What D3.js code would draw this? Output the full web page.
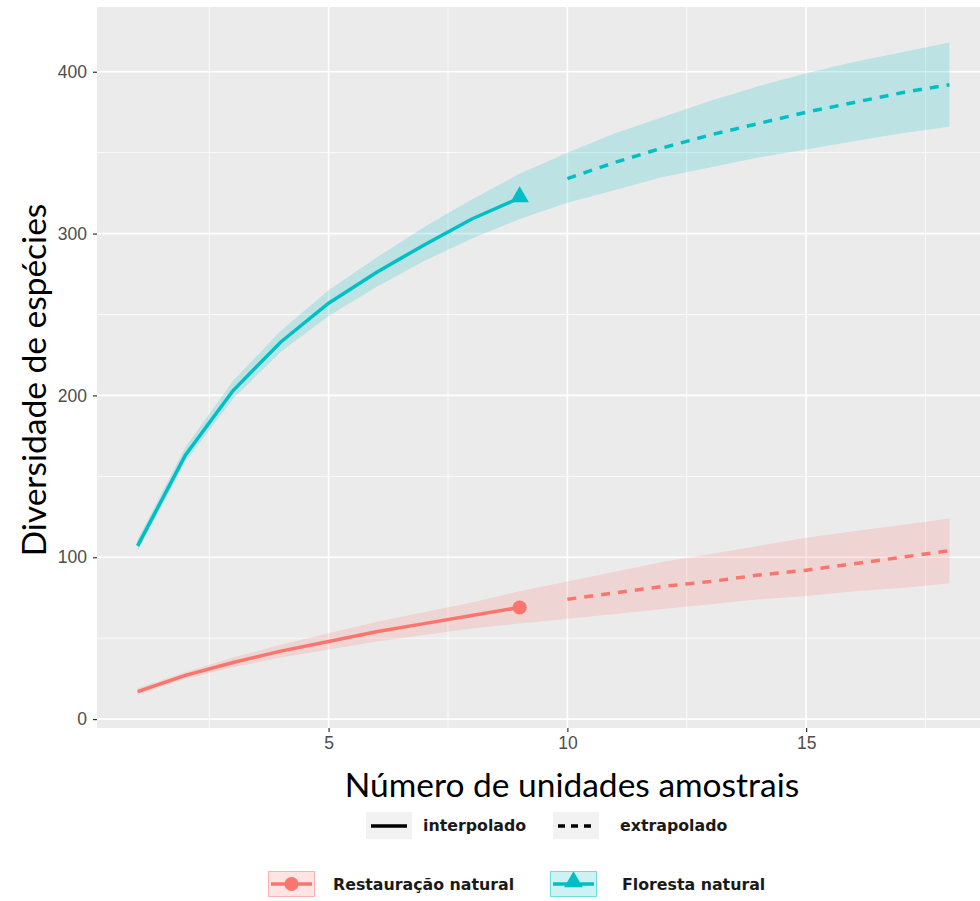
<!DOCTYPE html>
<html>
<head>
<meta charset="utf-8">
<script src="https://cdn.jsdelivr.net/npm/d3@7"></script>
<style>
  body { margin: 0; background: #ffffff; }
  svg { display: block; }
</style>
</head>
<body>
<div id="chart"></div>
<script>
//------------------------------DATA------------------------------//
const units = [1, 2, 3, 4, 5, 6, 7, 8, 9, 10, 11, 12, 13, 14, 15, 16, 17, 18];
const lastObserved = 9; // interpolado up to here, extrapolado after

const restMid = [17, 27, 35, 42, 48, 54, 59, 64, 69, 74, 78, 82, 85, 89, 92, 96, 100, 104];
const restLo  = [15, 25, 32, 38, 43, 48, 52, 56, 59, 62, 65, 68, 71, 74, 76, 79, 81, 84];
const restHi  = [19, 29, 38, 46, 53, 60, 66, 72, 79, 85, 91, 97, 102, 107, 112, 116, 120, 124];

const florMid = [107, 163, 203, 233, 257, 276, 293, 309, 322, 334, 344, 353, 361, 368, 375, 381, 387, 392];
const florLo  = [104, 159, 198, 227, 249, 267, 283, 297, 309, 319, 327, 335, 341, 347, 352, 357, 362, 366];
const florHi  = [111, 168, 209, 240, 265, 285, 304, 321, 337, 350, 362, 372, 382, 391, 399, 406, 412, 418];

const seriesNames = ["Restauração natural", "Floresta natural"];
const seriesColors = ["#F8766D", "#00BFC4"];
const lineTypes = ["interpolado", "extrapolado"];

const xMajor = [5, 10, 15];
const xMinor = [2.5, 7.5, 12.5, 17.5];
const yMajor = [0, 100, 200, 300, 400];
const yMinor = [50, 150, 250, 350];

//---------------------------SVG SETUP----------------------------//
const W = 980, H = 901;
const panel = { left: 97, top: 7, right: 990, bottom: 728 };

const svg = d3.select("#chart").append("svg")
    .attr("width", W)
    .attr("height", H)
    .style("font-family", "'Liberation Sans', Arial, sans-serif");

//-----------------------------SCALES-----------------------------//
const xScale = d3.scaleLinear().domain([0.15, 18.85]).range([panel.left, panel.right]);
const yScale = d3.scaleLinear().domain([-5.5, 440]).range([panel.bottom, panel.top]);

const series = seriesNames.map(function(name, i) {
    const mids = i === 0 ? restMid : florMid;
    const los = i === 0 ? restLo : florLo;
    const his = i === 0 ? restHi : florHi;
    return {
        name: name,
        color: seriesColors[i],
        values: units.map(function(u, j) {
            return { t: u, mid: mids[j], lo: los[j], hi: his[j] };
        })
    };
});

//---------------------------BACKGROUND---------------------------//
svg.append("rect")
    .attr("x", panel.left)
    .attr("y", panel.top)
    .attr("width", panel.right - panel.left)
    .attr("height", panel.bottom - panel.top)
    .attr("fill", "#EBEBEB");

const grid = svg.append("g").attr("class", "grid");
grid.selectAll(".ymin").data(yMinor).enter().append("line")
    .attr("x1", panel.left).attr("x2", panel.right)
    .attr("y1", d => yScale(d)).attr("y2", d => yScale(d))
    .attr("stroke", "#ffffff").attr("stroke-width", 0.8);
grid.selectAll(".xmin").data(xMinor).enter().append("line")
    .attr("y1", panel.top).attr("y2", panel.bottom)
    .attr("x1", d => xScale(d)).attr("x2", d => xScale(d))
    .attr("stroke", "#ffffff").attr("stroke-width", 0.8);
grid.selectAll(".ymaj").data(yMajor).enter().append("line")
    .attr("x1", panel.left).attr("x2", panel.right)
    .attr("y1", d => yScale(d)).attr("y2", d => yScale(d))
    .attr("stroke", "#ffffff").attr("stroke-width", 1.6);
grid.selectAll(".xmaj").data(xMajor).enter().append("line")
    .attr("y1", panel.top).attr("y2", panel.bottom)
    .attr("x1", d => xScale(d)).attr("x2", d => xScale(d))
    .attr("stroke", "#ffffff").attr("stroke-width", 1.6);

//-----------------------------RIBBONS----------------------------//
const area = d3.area()
    .x(d => xScale(d.t))
    .y0(d => yScale(d.lo))
    .y1(d => yScale(d.hi));

svg.selectAll(".ribbon").data(series).enter().append("path")
    .attr("class", "ribbon")
    .attr("d", d => area(d.values))
    .attr("fill", d => d.color)
    .attr("fill-opacity", 0.2);

//------------------------------LINES-----------------------------//
const line = d3.line()
    .x(d => xScale(d.t))
    .y(d => yScale(d.mid));

series.forEach(function(s) {
    svg.append("path")
        .attr("d", line(s.values.filter(d => d.t <= lastObserved)))
        .attr("fill", "none")
        .attr("stroke", s.color)
        .attr("stroke-width", 3.5);
    svg.append("path")
        .attr("d", line(s.values.filter(d => d.t > lastObserved)))
        .attr("fill", "none")
        .attr("stroke", s.color)
        .attr("stroke-width", 3.5)
        .attr("stroke-dasharray", "9,8");
});

// observed points
const obs0 = series[0].values.find(d => d.t === lastObserved);
svg.append("circle")
    .attr("cx", xScale(obs0.t))
    .attr("cy", yScale(obs0.mid))
    .attr("r", 7)
    .attr("fill", series[0].color);

const obs1 = series[1].values.find(d => d.t === lastObserved);
svg.append("path")
    .attr("d", d3.symbol().type(d3.symbolTriangle).size(150)())
    .attr("transform", "translate(" + xScale(obs1.t) + "," + (yScale(obs1.mid) - 1) + ")")
    .attr("fill", series[1].color);

//-------------------------------AXES-----------------------------//
const xAxis = d3.axisBottom(xScale).tickValues(xMajor).tickSize(4).tickPadding(5);
const yAxis = d3.axisLeft(yScale).tickValues(yMajor).tickSize(4).tickPadding(6);

const gx = svg.append("g")
    .attr("transform", "translate(0," + panel.bottom + ")")
    .call(xAxis);
const gy = svg.append("g")
    .attr("transform", "translate(" + panel.left + ",0)")
    .call(yAxis);

[gx, gy].forEach(function(g) {
    g.select(".domain").remove();
    g.selectAll(".tick line").attr("stroke", "#333333").attr("stroke-width", 1.2);
    g.selectAll(".tick text")
        .attr("fill", "#4D4D4D")
        .style("font-size", "17.5px")
        .style("font-family", "'Liberation Sans', Arial, sans-serif");
});

// axis titles
svg.append("text")
    .attr("x", 572)
    .attr("y", 797)
    .attr("text-anchor", "middle")
    .style("font-family", "Lato, 'Open Sans', sans-serif")
    .style("font-size", "33.5px")
    .attr("fill", "#000000")
    .text("Número de unidades amostrais");

svg.append("text")
    .attr("transform", "translate(46,380) rotate(-90)")
    .attr("text-anchor", "middle")
    .style("font-family", "Lato, 'Open Sans', sans-serif")
    .style("font-size", "33.5px")
    .attr("fill", "#000000")
    .text("Diversidade de espécies");

//------------------------------LEGEND----------------------------//
const legendFont = "'DejaVu Sans', Verdana, sans-serif";

// line type legend
const ltKeys = [366, 553];
const ltText = [423, 620];
lineTypes.forEach(function(lt, i) {
    const g = svg.append("g");
    g.append("rect")
        .attr("x", ltKeys[i]).attr("y", 812)
        .attr("width", 46).attr("height", 27)
        .attr("fill", "#F2F2F2");
    g.append("line")
        .attr("x1", ltKeys[i] + 5).attr("x2", ltKeys[i] + 41)
        .attr("y1", 826).attr("y2", 826)
        .attr("stroke", "#000000")
        .attr("stroke-width", 3.5)
        .attr("stroke-dasharray", i === 0 ? null : "7,6");
    g.append("text")
        .attr("x", ltText[i]).attr("y", 831)
        .style("font-family", legendFont)
        .style("font-size", "15.8px")
        .style("font-weight", "bold")
        .attr("fill", "#1a1a1a")
        .text(lt);
});

// series legend
const sKeys = [268, 550];
const sText = [333, 622];
series.forEach(function(s, i) {
    const g = svg.append("g");
    g.append("rect")
        .attr("x", sKeys[i] + 0.5).attr("y", 871.5)
        .attr("width", 46).attr("height", 25)
        .attr("fill", s.color).attr("fill-opacity", 0.2)
        .attr("stroke", s.color).attr("stroke-opacity", 0.5);
    g.append("line")
        .attr("x1", sKeys[i] + 3).attr("x2", sKeys[i] + 44)
        .attr("y1", 884).attr("y2", 884)
        .attr("stroke", s.color)
        .attr("stroke-width", 3.5);
    if (i === 0) {
        g.append("circle")
            .attr("cx", sKeys[i] + 23.5).attr("cy", 884)
            .attr("r", 7)
            .attr("fill", s.color);
    } else {
        g.append("path")
            .attr("d", d3.symbol().type(d3.symbolTriangle).size(150)())
            .attr("transform", "translate(" + (sKeys[i] + 23.5) + "," + 882 + ")")
            .attr("fill", s.color);
    }
    g.append("text")
        .attr("x", sText[i]).attr("y", 890)
        .style("font-family", legendFont)
        .style("font-size", "15.8px")
        .style("font-weight", "bold")
        .attr("fill", "#1a1a1a")
        .text(s.name);
});
</script>
</body>
</html>
